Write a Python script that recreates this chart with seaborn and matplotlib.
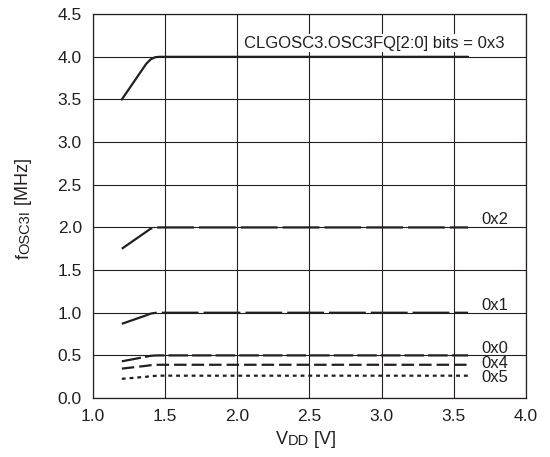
import numpy as np
import pandas as pd
import seaborn as sns
import matplotlib.pyplot as plt

# VDD [V] points and fOSC3I [MHz] for each OSC3FQ setting
vdd = [1.2, 1.37, 1.40, 1.43, 1.46, 3.6]
f_0x3 = [3.5, 3.92, 3.97, 3.995, 4.0, 4.0]
f_0x2 = [1.75, 1.95, 1.985, 1.998, 2.0, 2.0]
f_0x1 = [0.87, 0.97, 0.99, 0.998, 1.0, 1.0]
f_0x0 = [0.43, 0.485, 0.495, 0.499, 0.5, 0.5]
f_0x4 = [0.345, 0.378, 0.385, 0.389, 0.39, 0.39]
f_0x5 = [0.225, 0.25, 0.256, 0.26, 0.262, 0.262]

settings = ['0x3', '0x2', '0x1', '0x0', '0x4', '0x5']
curves = [f_0x3, f_0x2, f_0x1, f_0x0, f_0x4, f_0x5]

sns.set_style('white')
plt.rcParams['font.family'] = ['Liberation Sans', 'DejaVu Sans']
plt.rcParams['lines.scale_dashes'] = False

ink = '#231f20'
styles = {
    '0x3': '-',
    '0x2': (0, (26.5, 3.6)),
    '0x1': (0, (26.5, 3.6)),
    '0x0': (0, (14, 3)),
    '0x4': (0, (9, 3.6)),
    '0x5': (0, (2.8, 2.8)),
}

fig = plt.figure(figsize=(5.5, 4.57), dpi=100)
ax = fig.add_axes([0.169, 0.129, 0.787, 0.840])

for name, f in zip(settings, curves):
    df = pd.DataFrame({'VDD': vdd, 'f': f})
    sns.lineplot(data=df, x='VDD', y='f', ax=ax, color=ink, lw=1.6,
                 linestyle=styles[name], zorder=3)

ticks_x = np.arange(1.0, 4.01, 0.5)
ticks_y = np.arange(0.0, 4.51, 0.5)
ax.set_xlim(1.0, 4.0)
ax.set_ylim(0.0, 4.5)
ax.set_xticks(ticks_x)
ax.set_yticks(ticks_y)
ax.set_xticklabels([f'{v:.1f}' for v in ticks_x])
ax.set_yticklabels([f'{v:.1f}' for v in ticks_y])
ax.grid(True, color=ink, lw=0.8)
for s in ax.spines.values():
    s.set_color(ink)
    s.set_linewidth(0.9)
ax.tick_params(length=0, labelsize=12.5, colors=ink)
ax.tick_params(axis='x', pad=8)
ax.tick_params(axis='y', pad=8)
ax.set_xlabel('')
ax.set_ylabel('')

# axis labels with small-caps style suffixes on the baseline
t = fig.text(0.524, 0.02, 'V', fontsize=13, color=ink, ha='right', va='bottom')
t = ax.annotate('DD', xy=(1, 0), xycoords=t, fontsize=10.5, color=ink,
                ha='left', va='bottom')
ax.annotate(' [V]', xy=(1, 0), xycoords=t, fontsize=13, color=ink,
            ha='left', va='bottom')

t = fig.text(0.028, 0.445, 'f', fontsize=13, color=ink, rotation=90,
             ha='left', va='top')
t = ax.annotate('OSC3I', xy=(1, 1), xycoords=t, fontsize=10.5, color=ink,
                rotation=90, ha='right', va='bottom')
ax.annotate(' [MHz]', xy=(1, 1), xycoords=t, fontsize=13, color=ink,
            rotation=90, ha='right', va='bottom')

ax.text(2.05, 4.16, 'CLGOSC3.OSC3FQ[2:0] bits = 0x3', fontsize=12, color=ink,
        va='center', ha='left', zorder=4,
        bbox=dict(facecolor='white', edgecolor='none', pad=1))
ax.text(3.69, 2.0, '0x2', fontsize=12, color=ink, va='bottom')
ax.text(3.69, 1.0, '0x1', fontsize=12, color=ink, va='bottom')
ax.text(3.69, 0.495, '0x0', fontsize=12, color=ink, va='bottom')
ax.text(3.69, 0.40, '0x4', fontsize=12, color=ink, va='center')
ax.text(3.69, 0.235, '0x5', fontsize=12, color=ink, va='center')

fig.savefig('out.png', dpi=100)
